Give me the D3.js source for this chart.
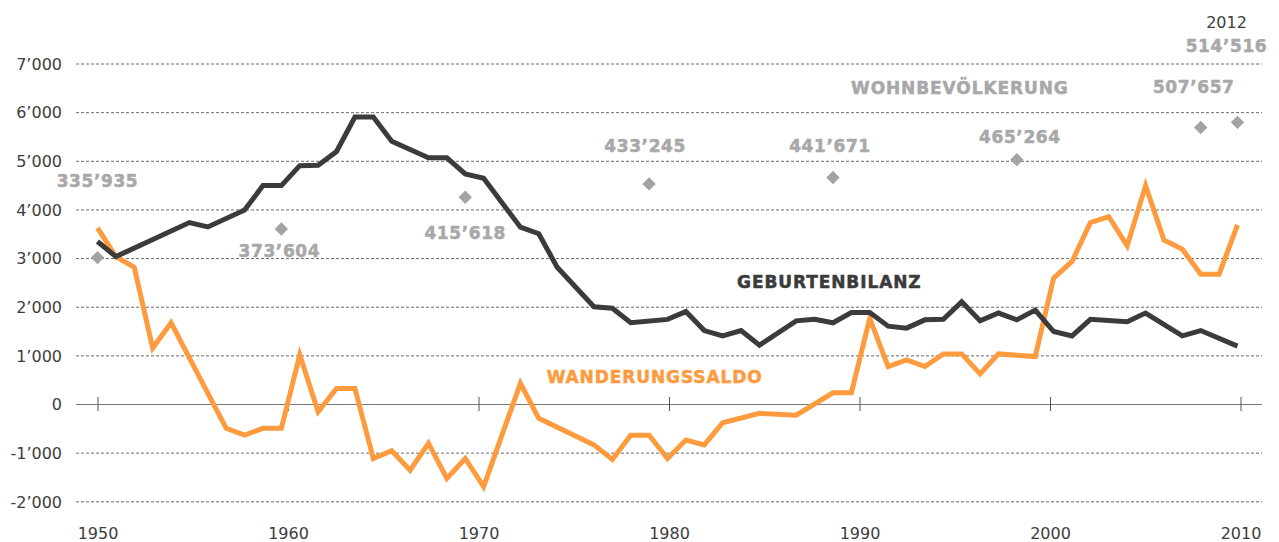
<!DOCTYPE html>
<html lang="de">
<head>
  <meta charset="UTF-8">
  <title>Bevölkerungsentwicklung</title>
  <script src="https://d3js.org/d3.v7.min.js"></script>
  <style>
    body { margin: 0; background: #fff; }
    svg { display: block; }
    .tick text { font-family: 'DejaVu Sans', sans-serif; font-size: 16px; fill: #3d3d3d; }
    .label { font-family: 'DejaVu Sans', sans-serif; font-weight: bold; }
  </style>
</head>
<body>
  <script>
    // Geburtenbilanz (births minus deaths)
    const birthYears = [1950, 1951, 1955, 1956, 1958, 1959, 1960, 1961, 1962, 1963, 1964, 1965, 1966, 1968, 1969, 1970, 1971, 1973, 1974, 1975, 1977, 1978, 1979, 1981, 1982, 1983, 1984, 1985, 1986, 1988, 1989, 1990, 1991, 1992, 1993, 1994, 1995, 1996, 1997, 1998, 1999, 2000, 2001, 2002, 2003, 2004, 2006, 2007, 2009, 2010, 2012];
    const birthValues = [3340, 3030, 3730, 3640, 3990, 4490, 4490, 4900, 4910, 5190, 5900, 5900, 5400, 5060, 5060, 4730, 4640, 3635, 3500, 2810, 2000, 1970, 1670, 1740, 1900, 1510, 1400, 1510, 1210, 1710, 1740, 1670, 1880, 1880, 1600, 1560, 1730, 1740, 2100, 1710, 1870, 1730, 1930, 1490, 1400, 1740, 1690, 1870, 1400, 1510, 1190];

    // Wanderungssaldo (net migration)
    const migYears = [1950, 1951, 1952, 1953, 1954, 1957, 1958, 1959, 1960, 1961, 1962, 1963, 1964, 1965, 1966, 1967, 1968, 1969, 1970, 1971, 1973, 1974, 1977, 1978, 1979, 1980, 1981, 1982, 1983, 1984, 1986, 1988, 1990, 1991, 1992, 1993, 1994, 1995, 1996, 1997, 1998, 1999, 2001, 2002, 2003, 2004, 2005, 2006, 2007, 2008, 2009, 2010, 2011, 2012];
    const migValues = [3620, 3030, 2810, 1150, 1670, -500, -640, -500, -500, 1010, -160, 320, 320, -1120, -960, -1360, -810, -1530, -1120, -1700, 425, -295, -840, -1140, -640, -640, -1120, -740, -840, -385, -190, -230, 230, 230, 1760, 770, 905, 770, 1030, 1030, 620, 1030, 975, 2590, 2930, 3730, 3850, 3250, 4490, 3370, 3180, 2670, 2670, 3680];

    // Wohnbevölkerung (resident population)
    const popYears = [1950, 1960, 1970, 1980, 1990, 2000, 2010, 2012];
    const popValues = [335935, 373604, 415618, 433245, 441671, 465264, 507657, 514516];

    // axis ticks
    const xTickYears = [1950, 1960, 1970, 1980, 1990, 2000, 2010];
    const yTickValues = [-2000, -1000, 0, 1000, 2000, 3000, 4000, 5000, 6000, 7000];

    // label placement (pixel offsets from the diamond)
    const popLabelDx = [0, -2, 0, -4, -3, 3, -7, -11];
    const popLabelDy = [-77, 22, 36, -38, -32, -23, -41, -76];

    const width = 1279, height = 542;
    const left = 76, right = 1262;

    const svg = d3.select("body").append("svg")
      .attr("width", width)
      .attr("height", height);

    const locale = d3.formatLocale({ decimal: ".", thousands: "\u2019", grouping: [3], currency: ["", ""], minus: "-" });
    const fmt = locale.format(",d");

    const y = d3.scaleLinear().domain([-2000, 7000]).range([501.3, 63.5]);
    const xAxisScale = d3.scaleLinear().domain([1950, 2010]).range([97.5, 1240.5]);
    const x = d3.scaleLinear().domain([1950, 2012]).range([97.5, 1237.5]);
    // population plotted on its own scale, expressed in units of the main axis
    const popScale = d3.scaleLinear().domain([335935, 514516]).range([3010, 5790]);

    // gridlines + y labels
    const yAxis = svg.append("g")
      .attr("transform", `translate(${left},0)`)
      .call(d3.axisLeft(y).tickValues(yTickValues).tickSize(-(right - left)).tickPadding(14).tickFormat(fmt));
    yAxis.select(".domain").remove();
    yAxis.selectAll(".tick line")
      .attr("stroke", d => d === 0 ? "#7a7a7a" : "#6a6a6a")
      .attr("stroke-dasharray", d => d === 0 ? null : "3,2");
    yAxis.selectAll(".tick text").attr("dy", "0.36em");

    // tick marks on the zero line
    const tickAxis = svg.append("g")
      .attr("transform", `translate(0,${y(0) - 7})`)
      .call(d3.axisBottom(xAxisScale).tickValues(xTickYears).tickSize(14).tickFormat(""));
    tickAxis.select(".domain").remove();
    tickAxis.selectAll(".tick line").attr("stroke", "#555");

    // year labels at the bottom
    const xAxis = svg.append("g")
      .attr("transform", "translate(0,520)")
      .call(d3.axisBottom(xAxisScale).tickValues(xTickYears).tickSize(0).tickPadding(7.6).tickFormat(d3.format("d")));
    xAxis.select(".domain").remove();

    const line = d3.line().x(d => x(d[0])).y(d => y(d[1]));

    svg.append("path")
      .datum(d3.zip(migYears, migValues))
      .attr("fill", "none")
      .attr("stroke", "#fd9b3e")
      .attr("stroke-width", 5)
      .attr("stroke-linejoin", "miter")
      .attr("d", line);

    svg.append("path")
      .datum(d3.zip(birthYears, birthValues))
      .attr("fill", "none")
      .attr("stroke", "#3b3b3b")
      .attr("stroke-width", 5)
      .attr("stroke-linejoin", "miter")
      .attr("d", line);

    // population diamonds
    const pop = popYears.map((yr, i) => ({
      year: yr, value: popValues[i],
      cx: x(yr), cy: y(popScale(popValues[i])),
      dx: popLabelDx[i], dy: popLabelDy[i]
    }));

    svg.selectAll(".diamond")
      .data(pop)
      .enter().append("path")
      .attr("class", "diamond")
      .attr("d", d3.symbol().type(d3.symbolSquare).size(90))
      .attr("transform", d => `translate(${d.cx},${d.cy}) rotate(45)`)
      .attr("fill", "#a3a3a3");

    svg.selectAll(".poplabel")
      .data(pop)
      .enter().append("text")
      .attr("class", "label poplabel")
      .attr("x", d => d.cx + d.dx)
      .attr("y", d => d.cy + d.dy)
      .attr("text-anchor", "middle")
      .attr("dominant-baseline", "central")
      .attr("font-size", 17)
      .attr("letter-spacing", 0.6)
      .attr("fill", "#a8a8a8")
      .attr("stroke", "#a8a8a8")
      .attr("stroke-width", 0.5)
      .text(d => fmt(d.value));

    const last = pop[pop.length - 1];
    svg.append("text")
      .attr("x", last.cx + last.dx)
      .attr("y", last.cy + last.dy - 24)
      .attr("text-anchor", "middle")
      .attr("dominant-baseline", "central")
      .attr("font-family", "'DejaVu Sans', sans-serif")
      .attr("font-size", 16)
      .attr("fill", "#3d3d3d")
      .text(last.year);

    // series labels
    const seriesLabels = [
      { text: "WOHNBEVÖLKERUNG", year: 1996.9, value: 6500, color: "#a8a8a8" },
      { text: "GEBURTENBILANZ", year: 1989.8, value: 2500, color: "#3b3b3b" },
      { text: "WANDERUNGSSALDO", year: 1980.3, value: 550, color: "#fd9b3e" }
    ];

    svg.selectAll(".serieslabel")
      .data(seriesLabels)
      .enter().append("text")
      .attr("class", "label serieslabel")
      .attr("x", d => x(d.year))
      .attr("y", d => y(d.value))
      .attr("text-anchor", "middle")
      .attr("dominant-baseline", "central")
      .attr("font-size", 17)
      .attr("letter-spacing", 0.9)
      .attr("fill", d => d.color)
      .attr("stroke", d => d.color)
      .attr("stroke-width", 0.5)
      .text(d => d.text);
  </script>
</body>
</html>
